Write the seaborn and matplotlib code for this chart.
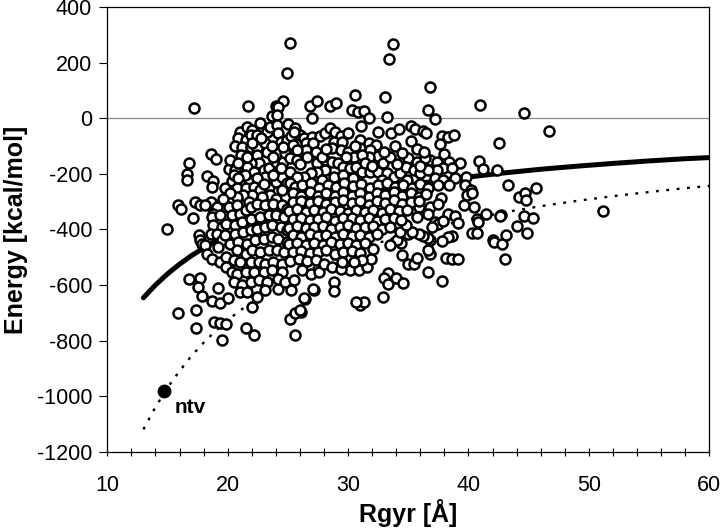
import pandas as pd
import seaborn as sns
from matplotlib import pyplot as plt
from matplotlib.ticker import MultipleLocator

# decoy energies as (Rgyr, Energy) pairs, grouped by area
top_pts = [(25.2, 272), (24.9, 164), (33.7, 268), (33.4, 213), (17.2, 39), (21.7, 44), (24.0, 44),
           (24.6, 63), (24.2, 40), (23.7, 8), (26.8, 44), (27.4, 62), (28.5, 44), (29.0, 56), (27.0, 2),
           (30.6, 83), (30.3, 30), (30.8, 24), (31.3, 26), (31.7, 3), (33.1, 77), (33.2, 6), (36.8, 115),
           (41.0, 50), (44.6, 18), (36.6, 30), (37.2, -3), (24.1, 12), (46.7, -46), (42.5, -90)]

right_pts = [(33.6, -52), (34.2, -39), (35.2, -28), (35.6, -39), (36.2, -45), (36.5, -52), (35.2, -82),
             (37.8, -62), (38.3, -66), (38.8, -60), (37.6, -93), (38.0, -127),
             (36.8, -150), (37.4, -156), (38.4, -158), (39.3, -161), (40.9, -155), (41.2, -181), (42.4, -187),
             (37.9, -180), (38.6, -180), (37.4, -186), (37.2, -216), (37.9, -222), (38.9, -216), (39.8, -210),
             (37.5, -240), (38.4, -240), (39.7, -240), (40.2, -258), (39.9, -276), (40.3, -270), (37.7, -288),
             (43.3, -240), (44.2, -283), (44.7, -267), (44.8, -292), (45.6, -251),
             (36.8, -320), (37.5, -307), (39.6, -312), (40.5, -319), (41.5, -344), (42.7, -346), (42.6, -352),
             (40.7, -361), (40.8, -373), (38.3, -344), (38.9, -350), (39.1, -378), (37.2, -373), (37.5, -380),
             (37.9, -371), (37.0, -391), (44.6, -353), (45.4, -360), (44.0, -387), (44.9, -413), (51.2, -332),
             (40.3, -413), (40.7, -413), (42.0, -437), (42.1, -445), (42.8, -451), (43.1, -420), (43.0, -507),
             (38.6, -423), (38.3, -427), (37.8, -441), (36.8, -439), (38.1, -501), (38.6, -507), (39.1, -507),
             (37.8, -587), (36.6, -430), (36.2, -424), (36.8, -487), (36.6, -553), (34.4, -448), (34.5, -491),
             (35.0, -526), (35.5, -526), (35.7, -502), (33.3, -558), (33.0, -576), (33.3, -596), (34.0, -575),
             (34.6, -592), (32.9, -644), (31.0, -671), (31.3, -660), (28.8, -588), (28.8, -620), (27.2, -617),
             (26.4, -650), (26.1, -696), (36.6, -343), (35.9, -319), (35.9, -415), (34.1, -439), (33.5, -457),
             (35.0, -415), (35.3, -409), (34.3, -409), (34.8, -385), (35.7, -355), (36.6, -475)]

left_pts = [(15.0, -399), (15.9, -310), (16.1, -325), (17.1, -360), (17.3, -301), (17.7, -313), (18.6, -301),
            (19.1, -319), (18.8, -343), (18.1, -313),
            (16.8, -577), (17.7, -573), (17.5, -608), (17.9, -638), (15.9, -702), (17.4, -690), (17.4, -755),
            (18.7, -656), (19.4, -665), (20.0, -646), (18.9, -734), (19.4, -738), (19.9, -740), (19.5, -797),
            (21.5, -755), (22.2, -781), (19.2, -609), (22.4, -644), (22.0, -680), (23.2, -588), (24.2, -614),
            (25.3, -617), (26.3, -647), (27.1, -614), (25.2, -722), (25.6, -702), (26.0, -690), (25.6, -779),
            (30.7, -662),
            (18.6, -127), (19.0, -145), (16.8, -160), (16.6, -200), (16.6, -220), (18.3, -207), (18.8, -225),
            (18.7, -248), (19.8, -251), (20.1, -182), (20.6, -187), (20.4, -227),
            (17.6, -421), (17.7, -439), (17.9, -451), (18.1, -457),
            (18.7, -355), (19.4, -349), (18.8, -385), (19.5, -391), (18.6, -415), (19.1, -415), (19.5, -439),
            (19.2, -463), (18.3, -487), (18.7, -505), (19.4, -517), (19.9, -499), (20.5, -511), (19.9, -535),
            (20.4, -553)]

core_upper_left = [(21.05, -48), (21.6, -30), (22.0, -42), (20.9, -72), (21.5, -78), (21.9, -60), (22.4, -60),
                   (23.3, -48), (23.5, -30), (24.1, -24), (20.6, -100), (21.2, -102), (21.9, -102), (22.4, -108),
                   (23.1, -90), (23.3, -120), (24.2, -54), (24.4, -84), (24.9, -78), (22.4, -132), (22.6, -162),
                   (21.9, -162), (21.6, -174), (22.2, -192), (23.0, -186), (23.4, -180), (23.1, -210), (22.4, -216),
                   (21.7, -228), (21.05, -234), (20.8, -252), (21.5, -252), (22.2, -246), (22.7, -258), (23.4, -246),
                   (24.0, -228), (24.1, -192), (24.0, -156), (24.6, -156), (24.8, -126), (24.6, -102), (24.5, -210),
                   (24.9, -234), (24.5, -258), (23.5, -276), (22.85, -282), (22.0, -276), (21.3, -276), (20.8, -282),
                   (20.5, -204), (22.0, -90), (23.8, -140), (21.1, -130), (21.6, -140), (20.2, -150), (20.9, -160),
                   (21.4, -205), (20.9, -215), (23.8, -205), (24.4, -178), (23.0, -235), (24.0, -290), (21.8, -300),
                   (20.2, -270), (19.6, -290), (23.7, -100), (22.8, -72), (25.0, -20), (25.6, -35), (26.0, -60),
                   (25.3, -65), (22.7, -18)]

core_upper_right = [(31.1, -28), (32.5, -48), (25.5, -48), (26.3, -72), (27.0, -66), (27.7, -64), (28.1, -54),
                    (28.5, -36), (28.9, -48), (29.4, -64), (30.0, -54), (25.4, -96), (26.5, -90), (27.1, -90),
                    (26.5, -114), (25.8, -114), (28.8, -84), (29.5, -84), (28.7, -108), (29.4, -114), (30.0, -120),
                    (30.5, -138), (29.8, -138), (31.0, -78), (31.0, -108), (31.7, -90), (32.3, -96), (31.8, -114),
                    (32.5, -136), (31.7, -138), (31.2, -132), (25.2, -144), (25.8, -150), (27.4, -162), (28.1, -150),
                    (28.7, -156), (29.2, -162), (28.1, -186), (27.4, -192), (26.9, -198), (26.3, -210), (25.2, -192),
                    (25.8, -210), (29.6, -174), (30.2, -180), (30.7, -174), (31.2, -192), (31.8, -192), (32.5, -192),
                    (33.2, -198), (33.8, -210), (34.3, -198), (34.9, -222), (35.0, -144), (35.7, -156), (36.4, -144),
                    (34.8, -174), (35.5, -186), (36.0, -198), (36.6, -186), (26.0, -165), (26.6, -140), (27.3, -120),
                    (27.8, -140), (28.2, -110), (30.6, -100), (31.4, -160), (32.0, -170), (32.9, -160), (33.5, -140),
                    (33.0, -120), (33.9, -100), (34.5, -125), (34.1, -165), (35.7, -110), (36.3, -120), (36.0, -170),
                    (28.8, -212), (29.6, -205), (30.4, -215), (27.8, -222), (32.8, -220),
                    (25.2, -234), (25.6, -246), (26.2, -240), (26.9, -234), (27.6, -250), (28.3, -238), (29.0, -248),
                    (29.7, -232), (30.4, -244), (31.1, -236), (31.8, -250), (32.5, -240), (33.2, -234), (33.9, -248),
                    (34.6, -238), (35.3, -250), (36.0, -236), (36.6, -250),
                    (25.4, -270), (26.1, -278), (26.8, -266), (27.5, -280), (28.2, -268), (28.9, -278), (29.6, -266),
                    (30.3, -280), (31.0, -268), (31.7, -282), (32.4, -270), (33.1, -276), (33.8, -266), (34.5, -280),
                    (35.2, -270), (35.9, -282), (36.5, -272)]

core_lower_left = [(20.1, -319), (20.8, -313), (20.4, -349), (21.05, -343), (21.5, -331), (21.9, -319), (22.4, -307),
                   (23.1, -313), (23.8, -307), (24.5, -313), (24.9, -325), (19.9, -379), (20.6, -385), (21.2, -373),
                   (21.9, -361), (22.7, -355), (23.4, -349), (24.0, -349), (24.65, -355), (19.8, -421), (20.6, -415),
                   (21.3, -409), (21.9, -403), (22.4, -397), (23.1, -391), (23.7, -385), (24.4, -391), (24.9, -403),
                   (20.2, -451), (20.9, -445), (21.6, -451), (22.3, -439), (23.0, -433), (23.7, -427), (24.2, -433),
                   (24.9, -445), (20.8, -475), (21.5, -487), (22.0, -475), (22.7, -481), (23.4, -475), (24.1, -475),
                   (24.65, -481), (21.05, -517), (21.9, -517), (22.6, -517), (23.1, -523), (23.8, -517), (24.5, -523),
                   (20.8, -559), (21.5, -553), (22.2, -553), (23.0, -553), (23.7, -547), (24.5, -553),
                   (20.5, -589), (21.2, -601), (21.9, -589), (22.6, -583), (23.3, -589), (24.2, -577), (24.8, -589),
                   (21.05, -625), (21.6, -625), (23.1, -619)]

core_lower_right = [(25.4, -302), (26.1, -296), (26.8, -305), (27.5, -298), (28.2, -308), (28.9, -300), (29.6, -294),
                    (30.3, -306), (31.0, -299), (31.7, -310), (32.4, -297), (33.1, -304), (33.8, -295), (34.5, -308),
                    (35.2, -300), (35.9, -296),
                    (25.1, -332), (25.8, -327), (26.5, -338), (27.2, -330), (27.9, -336), (28.6, -326), (29.3, -334),
                    (30.0, -340), (30.7, -329), (31.4, -337), (32.1, -331), (32.8, -339), (33.5, -326), (34.2, -335),
                    (34.9, -330),
                    (25.4, -364), (26.1, -358), (26.8, -366), (27.5, -361), (28.2, -355), (28.9, -368), (29.6, -360),
                    (30.3, -357), (31.0, -366), (31.7, -359), (32.4, -369), (33.1, -362), (33.8, -357), (34.4, -366),
                    (25.1, -393), (25.8, -388), (26.5, -396), (27.2, -391), (27.9, -386), (28.6, -398), (29.3, -390),
                    (30.0, -385), (30.7, -395), (31.4, -392), (32.1, -387), (32.8, -398), (33.5, -390),
                    (25.4, -419), (26.1, -426), (26.8, -417), (27.5, -424), (28.2, -421), (28.9, -428), (29.6, -418),
                    (30.3, -425), (31.0, -420), (31.7, -428), (32.4, -417),
                    (25.1, -452), (25.8, -447), (26.5, -455), (27.2, -449), (27.9, -456), (28.6, -446), (29.3, -453),
                    (30.0, -448), (30.7, -457), (31.4, -450),
                    (25.4, -482), (26.1, -477), (26.8, -486), (27.5, -480), (28.2, -475), (28.9, -488), (29.6, -481),
                    (30.3, -476), (31.0, -486),
                    (25.2, -512), (25.9, -507), (26.6, -515), (27.3, -509),
                    (30.2, -547), (30.9, -547), (31.6, -535), (31.9, -505), (32.1, -469), (31.2, -511), (30.5, -517),
                    (25.5, -583), (26.2, -547), (26.9, -559), (27.6, -553), (28.0, -523), (28.7, -535), (29.4, -541),
                    (29.5, -517)]

# thick solid curve
fit_rgyr = [13, 14, 15, 16, 17, 18, 19, 20, 22, 25, 28, 31, 34, 37, 40, 43, 46, 49, 52, 55, 58, 60]
fit_energy = [-646, -600, -560, -525, -494, -467, -442, -420, -382, -336, -300, -271, -247, -227, -211,
              -196, -183, -172, -162, -153, -145, -141]

# dotted curve
low_rgyr = [13, 14, 15, 16, 17, 18, 19, 20, 21, 23, 25, 28, 31, 34, 37, 40, 43, 46, 49, 52, 55, 58, 60]
low_energy = [-1120, -1040, -970, -910, -855, -808, -765, -727, -693, -632, -582, -520, -470, -428, -393,
              -364, -338, -316, -297, -280, -265, -251, -243]

ntv_rgyr = [14.7]
ntv_energy = [-983]

groups = [top_pts, right_pts, left_pts, core_upper_left, core_upper_right, core_lower_left, core_lower_right]
pts = [p for g in groups for p in g]
df = pd.DataFrame(pts, columns=['Rgyr', 'Energy'])

sns.set_theme(style='ticks')
plt.rcParams['font.family'] = ['Liberation Sans', 'DejaVu Sans']
plt.rcParams['axes.unicode_minus'] = False
plt.rcParams['text.color'] = 'black'
plt.rcParams['axes.labelcolor'] = 'black'

fig = plt.figure(figsize=(7.2, 5.3), dpi=100)
ax = fig.add_axes([0.149, 0.148, 0.836, 0.838])

ax.axhline(0, color='#8a8a8a', lw=0.9, zorder=1)
sns.lineplot(x=low_rgyr, y=low_energy, ax=ax, color='black', lw=1.7, linestyle=(0, (1.2, 3.2)), zorder=2)
sns.lineplot(x=fit_rgyr, y=fit_energy, ax=ax, color='black', lw=3.6, zorder=2)
sns.scatterplot(data=df, x='Rgyr', y='Energy', ax=ax, s=52, facecolor='white', edgecolor='black',
                linewidth=1.8, zorder=3)
sns.scatterplot(x=ntv_rgyr, y=ntv_energy, ax=ax, s=85, color='black', edgecolor='black', zorder=4)
ax.text(15.6, -1040, 'ntv', fontsize=15, fontweight='bold', ha='left', va='center', color='black')

ax.set_xlim(10, 60)
ax.set_ylim(-1200, 400)
ax.xaxis.set_major_locator(MultipleLocator(10))
ax.xaxis.set_minor_locator(MultipleLocator(2))
ax.yaxis.set_major_locator(MultipleLocator(200))
ax.tick_params(axis='x', which='both', direction='inout', length=6, width=0.8, labelsize=15.5, pad=14,
               color='black', labelcolor='black')
ax.tick_params(axis='y', which='major', direction='out', length=6, width=0.8, labelsize=15.5, pad=5,
               color='black', labelcolor='black')
for sp in ax.spines.values():
    sp.set_color('black')
    sp.set_linewidth(0.9)

ax.set_xlabel('Rgyr [Å]', fontsize=18, fontweight='bold', labelpad=2, color='black')
ax.set_ylabel('Energy [kcal/mol]', fontsize=18, fontweight='bold', labelpad=6, color='black')

fig.savefig('out.png', dpi=100)
